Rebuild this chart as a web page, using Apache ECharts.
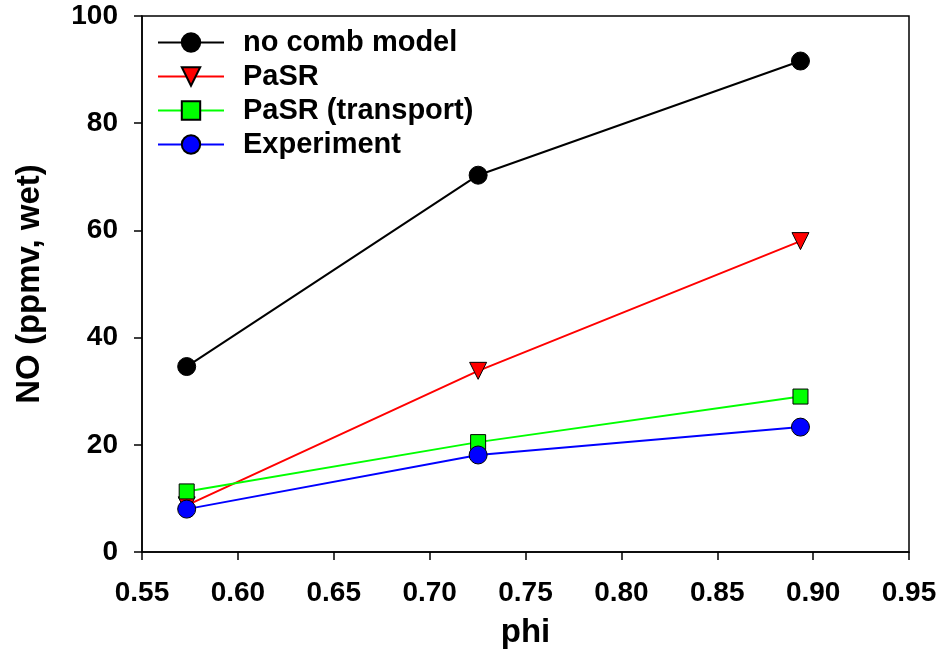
<!DOCTYPE html>
<html><head><meta charset="utf-8">
<script src="https://cdn.jsdelivr.net/npm/echarts@6/dist/echarts.min.js"></script>
<style>html,body{margin:0;padding:0;background:#fff}#c{width:942px;height:666px}</style>
</head><body><div id="c"></div>
<script>
var phi = [0.5733, 0.7253, 0.8934];
var noComb = [34.6, 70.3, 91.6];
var pasr = [8.7, 33.8, 58.0];
var pasrTransport = [11.3, 20.5, 29.0];
var experiment = [8.0, 18.1, 23.3];
var seriesNames = ['no comb model', 'PaSR', 'PaSR (transport)', 'Experiment'];

function pairs(xs, ys){ return xs.map(function(x,i){ return [x, ys[i]]; }); }
var F = 'Liberation Sans, Arial, sans-serif';
var chart = echarts.init(document.getElementById('c'), null, {renderer:'canvas'});
function mk(name, data, color, symbol, size, rot, border){
  return {
    name: name, type: 'line', data: pairs(phi, data),
    symbol: symbol, symbolSize: size, symbolRotate: rot,
    lineStyle: {color: color, width: 2},
    itemStyle: {color: color, borderColor: '#000', borderWidth: border},
    z: 2
  };
}
chart.setOption({
  animation: false,
  grid: {left: 142, right: 33, top: 16, bottom: 114, show: true, borderColor: '#000', borderWidth: 1.5},
  legend: {
    orient: 'vertical', left: 152, top: 23, itemWidth: 66, itemHeight: 23, itemGap: 5,
    textStyle: {fontFamily: F, fontWeight: 'bold', fontSize: 29, color: '#000', padding:[0,0,0,14]},
    data: seriesNames
  },
  xAxis: {
    type: 'value', min: 0.55, max: 0.95, interval: 0.05,
    name: 'phi', nameLocation: 'middle', nameGap: 64,
    nameTextStyle: {fontFamily: F, fontWeight: 'bold', fontSize: 33, color: '#000'},
    axisLine: {show: true, onZero: false, lineStyle: {color: '#000', width: 1.5}},
    axisTick: {show: true, inside: false, length: 8, lineStyle: {color: '#000', width: 1.5}},
    axisLabel: {fontFamily: F, fontWeight: 'bold', fontSize: 28, color: '#000', margin: 27,
      formatter: function(v){ return v.toFixed(2); }},
    splitLine: {show: false}
  },
  yAxis: {
    type: 'value', min: 0, max: 100, interval: 20,
    name: 'NO (ppmv, wet)', nameLocation: 'middle', nameGap: 96,
    nameTextStyle: {fontFamily: F, fontWeight: 'bold', fontSize: 33, color: '#000'},
    axisLine: {show: true, lineStyle: {color: '#000', width: 1.5}},
    axisTick: {show: true, inside: false, length: 8, lineStyle: {color: '#000', width: 1.5}},
    axisLabel: {fontFamily: F, fontWeight: 'bold', fontSize: 28, color: '#000', margin: 24},
    splitLine: {show: false}
  },
  series: [
    mk(seriesNames[0], noComb, '#000000', 'circle', 18, 0, 1),
    mk(seriesNames[1], pasr, '#ff0000', 'triangle', 17, 180, 1),
    mk(seriesNames[2], pasrTransport, '#00ff00', 'rect', 15, 0, 1),
    mk(seriesNames[3], experiment, '#0000ff', 'circle', 18, 0, 1)
  ]
});
</script></body></html>
